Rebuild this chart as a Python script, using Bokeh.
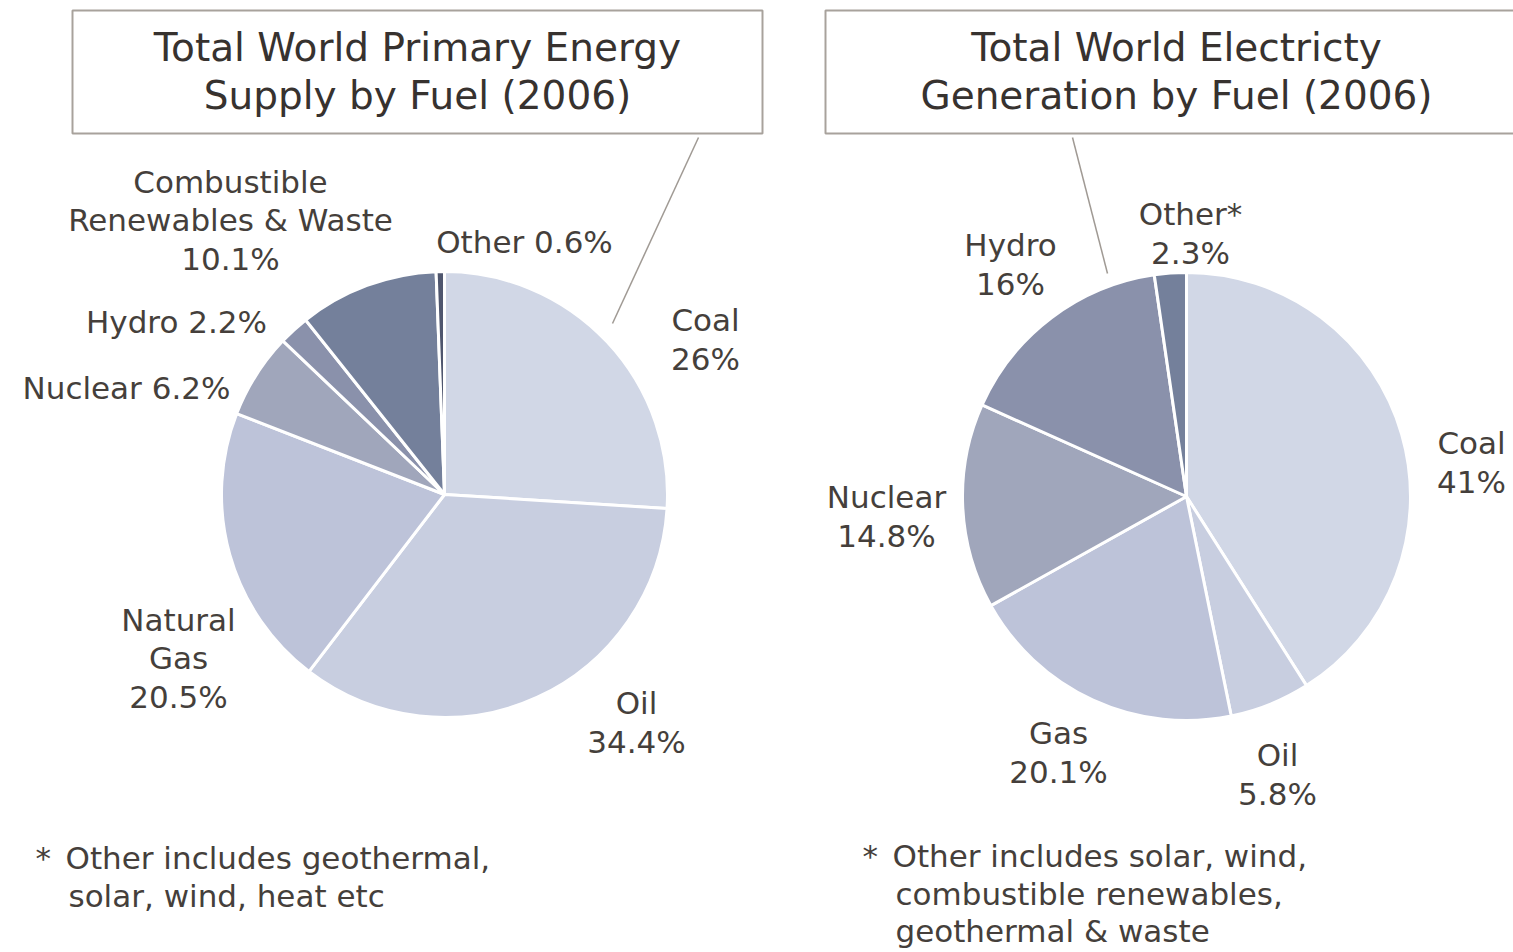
import math
from bokeh.plotting import figure
from bokeh.models import Range1d, ColumnDataSource
from bokeh.core.properties import value
from bokeh.embed import file_html
from bokeh.resources import INLINE

# ---- data ----
primary_fuels = ["Coal", "Oil", "Natural Gas", "Nuclear", "Hydro",
                 "Combustible Renewables & Waste", "Other"]
primary_share = [26.0, 34.4, 20.5, 6.2, 2.2, 10.1, 0.6]
primary_text = ["Coal\n26%", "Oil\n34.4%", "Natural\nGas\n20.5%", "Nuclear 6.2%",
                "Hydro 2.2%", "Combustible\nRenewables & Waste\n10.1%", "Other 0.6%"]

elec_fuels = ["Coal", "Oil", "Gas", "Nuclear", "Hydro", "Other*"]
elec_share = [41.0, 5.8, 20.1, 14.8, 16.0, 2.3]
elec_text = ["Coal\n41%", "Oil\n5.8%", "Gas\n20.1%", "Nuclear\n14.8%",
             "Hydro\n16%", "Other*\n2.3%"]

title_primary = "Total World Primary Energy\nSupply by Fuel (2006)"
title_elec = "Total World Electricty\nGeneration by Fuel (2006)"
note_lines = ["*", "Other includes geothermal,", "solar, wind, heat etc",
              "*", "Other includes solar, wind,", "combustible renewables,",
              "geothermal & waste"]

# ---- styles / layout ----
primary_colors = ["#d1d7e6", "#c8cee0", "#bdc3d9", "#a0a6bb", "#8a91ab", "#74809b", "#4f566e"]
elec_colors = ["#d1d7e6", "#c8cee0", "#bdc3d9", "#a0a6bb", "#8a91ab", "#74809b"]

W, H = 1513, 952
def Y(py):
    return H - py

FONT = value("DejaVu Sans")
TXT = "#453f3b"

p = figure(width=W, height=H, x_range=Range1d(0, W), y_range=Range1d(0, H),
           output_backend="svg", toolbar_location=None, min_border=0)
p.axis.visible = False
p.grid.visible = False
p.outline_line_color = None
p.background_fill_color = "white"


def pie(cx, cy, r, shares, colors):
    starts, ends = [], []
    cum = 0.0
    total = sum(shares)
    for s in shares:
        starts.append(math.pi / 2 - 2 * math.pi * cum / total)
        cum += s
        ends.append(math.pi / 2 - 2 * math.pi * cum / total)
    src = ColumnDataSource(dict(start=starts, end=ends, color=colors))
    p.wedge(x=cx, y=cy, radius=r, start_angle="start", end_angle="end",
            direction="clock", fill_color="color", line_color="white",
            line_width=3, source=src)


pie(444, Y(494), 223, primary_share, primary_colors)
pie(1186, Y(496), 224, elec_share, elec_colors)

# title boxes
p.quad(left=[72, 825], right=[762, 1540], top=[Y(10), Y(10)], bottom=[Y(133), Y(133)],
       fill_color="white", line_color="#a8a29c", line_width=2)

# leader lines
p.segment(x0=[612, 1107], y0=[Y(323), Y(273)], x1=[698, 1072], y1=[Y(137), Y(137)],
          line_color="#a09a94", line_width=1.5)

p.text(x=[417, 1176], y=[Y(71), Y(71)], text=[title_primary, title_elec],
       text_font=FONT, text_font_size="39px", text_color="#37322f",
       text_align="center", text_baseline="middle", text_line_height=1.08)

LBL = "31px"
LH = 1.06
prim_pos = [(705, 339), (636, 722), (178, 658), (126, 387), (176, 321), (230, 220), (524, 241)]
p.text(x=[q[0] for q in prim_pos], y=[Y(q[1]) for q in prim_pos], text=primary_text,
       text_font=FONT, text_font_size=LBL, text_color=TXT,
       text_align="center", text_baseline="middle", text_line_height=LH)

elec_pos = [(1471, 462), (1277, 774), (1058, 752), (886, 516), (1010, 264), (1190, 233)]
p.text(x=[q[0] for q in elec_pos], y=[Y(q[1]) for q in elec_pos], text=elec_text,
       text_font=FONT, text_font_size=LBL, text_color=TXT,
       text_align="center", text_baseline="middle", text_line_height=LH)

# footnotes
note_pos = [(35, 857), (65, 857), (68, 895), (862, 855), (892, 855), (895, 893), (895, 930)]
p.text(x=[q[0] for q in note_pos], y=[Y(q[1]) for q in note_pos], text=note_lines,
       text_font=FONT, text_font_size="31px", text_color=TXT,
       text_align="left", text_baseline="middle")

open("out.html", "w").write(file_html(p, INLINE))
